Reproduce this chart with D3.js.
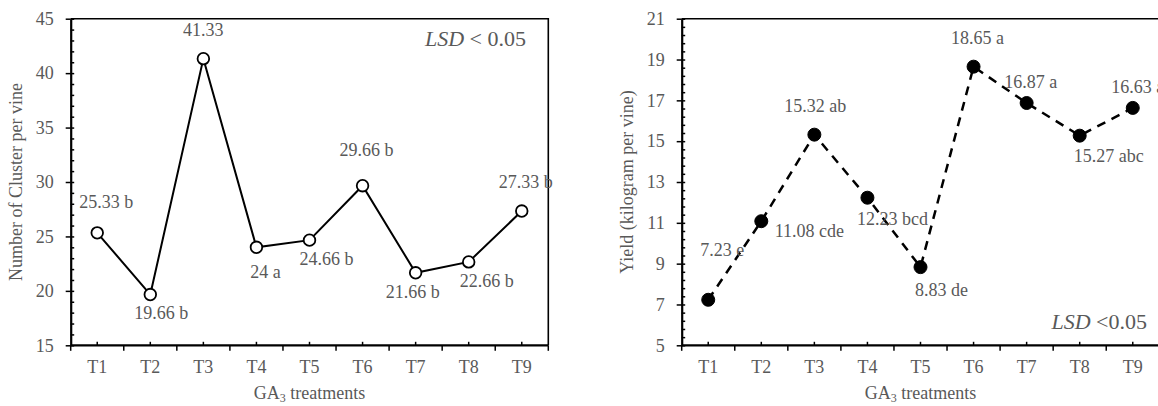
<!DOCTYPE html>
<html>
<head>
<meta charset="utf-8">
<script src="https://cdn.jsdelivr.net/npm/d3@7"></script>
<style>
  html, body { margin: 0; padding: 0; background: #fff; }
  svg { display: block; }
</style>
</head>
<body>
<div id="chart"></div>
<script>
// data
const treatments = ['T1', 'T2', 'T3', 'T4', 'T5', 'T6', 'T7', 'T8', 'T9'];
const clusterValues = [25.33, 19.66, 41.33, 24, 24.66, 29.66, 21.66, 22.66, 27.33];
const clusterLetters = ['b', 'b', '', 'a', 'b', 'b', 'b', 'b', 'b'];
const clusterTicks = [15, 20, 25, 30, 35, 40, 45];
const yieldValues = [7.23, 11.08, 15.32, 12.23, 8.83, 18.65, 16.87, 15.27, 16.63];
const yieldLetters = ['e', 'cde', 'ab', 'bcd', 'de', 'a', 'a', 'abc', 'a'];
const yieldTicks = [5, 7, 9, 11, 13, 15, 17, 19, 21];

// label placement (label centre dx, baseline dy from the marker)
const clusterLabelOffsets = [[9, -25], [11, 24], [0, -23], [9, 31], [17, 25], [4, -30], [-3, 25], [18, 25], [4, -23]];
const yieldLabelOffsets = [[14, -44], [48, 16], [1, -23], [25, 27], [21, 29], [4, -23], [4, -15], [29, 26], [5, -15]];

const W = 1158, H = 406;
const FONT = '"Liberation Serif", "Times New Roman", serif';
const TEXT = '#595959';

const svg = d3.select('#chart').append('svg')
  .attr('width', W)
  .attr('height', H)
  .attr('viewBox', `0 0 ${W} ${H}`);

function drawPanel({ left, right, top, bottom, values, letters, ticks, minorStep, offsets, yTitle, filled, dashed, lsd, lsdPos }) {
  const g = svg.append('g');

  const x = d3.scaleBand().domain(treatments).range([left, right]).padding(0);
  const y = d3.scaleLinear().domain([ticks[0], ticks[ticks.length - 1]]).range([bottom, top]);
  const cx = t => x(t) + x.bandwidth() / 2;

  // plot frame (top and right)
  g.append('path')
    .attr('d', `M${left},${top}H${right}V${bottom}`)
    .attr('fill', 'none')
    .attr('stroke', '#000')
    .attr('stroke-width', 1.6);

  // minor y ticks (inside)
  const minor = d3.range(ticks[0], ticks[ticks.length - 1] + 1e-9, minorStep)
    .filter(v => !ticks.some(t => Math.abs(t - v) < 1e-6));
  g.append('g')
    .attr('transform', `translate(${left},0)`)
    .call(d3.axisRight(y).tickValues(minor).tickSize(3.5).tickFormat(''))
    .call(ax => ax.select('.domain').remove())
    .call(ax => ax.selectAll('line').attr('stroke', '#000').attr('stroke-width', 1.5));

  // major y ticks inside part
  g.append('g')
    .attr('transform', `translate(${left},0)`)
    .call(d3.axisRight(y).tickValues(ticks).tickSize(3.5).tickFormat(''))
    .call(ax => ax.select('.domain').remove())
    .call(ax => ax.selectAll('line').attr('stroke', '#000').attr('stroke-width', 1.5));

  // y axis with labels
  g.append('g')
    .attr('transform', `translate(${left},0)`)
    .call(d3.axisLeft(y).tickValues(ticks).tickSize(5).tickSizeOuter(0).tickPadding(12))
    .call(ax => ax.select('.domain').attr('stroke', '#000').attr('stroke-width', 2.2))
    .call(ax => ax.selectAll('line').attr('stroke', '#000').attr('stroke-width', 1.5))
    .call(ax => ax.selectAll('text')
      .attr('font-family', FONT)
      .attr('font-size', '18px')
      .attr('fill', TEXT));

  // x axis: ticks at category centres go in, boundary ticks go out
  const bounds = treatments.map(t => x(t)).concat([right]);
  g.selectAll('line.xb')
    .data(bounds)
    .join('line')
    .attr('class', 'xb')
    .attr('x1', d => d).attr('x2', d => d)
    .attr('y1', bottom).attr('y2', bottom + 5.5)
    .attr('stroke', '#000').attr('stroke-width', 1.5);
  g.selectAll('line.xc')
    .data(treatments)
    .join('line')
    .attr('class', 'xc')
    .attr('x1', d => cx(d)).attr('x2', d => cx(d))
    .attr('y1', bottom).attr('y2', bottom - 3.5)
    .attr('stroke', '#000').attr('stroke-width', 1.5);
  g.append('line')
    .attr('x1', left).attr('x2', right)
    .attr('y1', bottom).attr('y2', bottom)
    .attr('stroke', '#000').attr('stroke-width', 2.2);
  g.selectAll('text.xl')
    .data(treatments)
    .join('text')
    .attr('class', 'xl')
    .attr('x', d => cx(d))
    .attr('y', bottom + 28)
    .attr('text-anchor', 'middle')
    .attr('font-family', FONT)
    .attr('font-size', '18px')
    .attr('fill', TEXT)
    .text(d => d);

  // x title with subscript
  const xt = g.append('text')
    .attr('x', (left + right) / 2)
    .attr('y', bottom + 54)
    .attr('text-anchor', 'middle')
    .attr('font-family', FONT)
    .attr('font-size', '18px')
    .attr('fill', TEXT);
  xt.append('tspan').text('GA');
  xt.append('tspan').attr('font-size', '12px').attr('dy', 3).text('3');
  xt.append('tspan').attr('dy', -3).text(' treatments');

  // y title
  g.append('text')
    .attr('transform', `translate(${left - 53},${(top + bottom) / 2}) rotate(-90)`)
    .attr('text-anchor', 'middle')
    .attr('dominant-baseline', 'middle')
    .attr('font-family', FONT)
    .attr('font-size', '18px')
    .attr('fill', TEXT)
    .text(yTitle);

  // line
  const line = d3.line().x((d, i) => cx(treatments[i])).y(d => y(d));
  g.append('path')
    .datum(values)
    .attr('d', line)
    .attr('fill', 'none')
    .attr('stroke', '#000')
    .attr('stroke-width', dashed ? 2.5 : 2)
    .attr('stroke-dasharray', dashed ? '9,7' : null);

  // markers
  g.selectAll('circle.pt')
    .data(values)
    .join('circle')
    .attr('class', 'pt')
    .attr('cx', (d, i) => cx(treatments[i]))
    .attr('cy', d => y(d))
    .attr('r', filled ? 6.5 : 5.8)
    .attr('fill', filled ? '#000' : '#fff')
    .attr('stroke', '#000')
    .attr('stroke-width', filled ? 1 : 1.8);

  // data labels
  g.selectAll('text.val')
    .data(values)
    .join('text')
    .attr('class', 'val')
    .attr('x', (d, i) => cx(treatments[i]) + offsets[i][0])
    .attr('y', (d, i) => y(d) + offsets[i][1])
    .attr('text-anchor', 'middle')
    .attr('font-family', FONT)
    .attr('font-size', '18px')
    .attr('fill', TEXT)
    .text((d, i) => letters[i] ? `${d} ${letters[i]}` : `${d}`);

  // LSD note
  const lt = g.append('text')
    .attr('x', lsdPos[0])
    .attr('y', lsdPos[1])
    .attr('text-anchor', 'end')
    .attr('font-family', FONT)
    .attr('font-size', '22px')
    .attr('fill', TEXT);
  lt.append('tspan').attr('font-style', 'italic').text('LSD');
  lt.append('tspan').text(lsd);
}

drawPanel({
  left: 70.7, right: 548.3, top: 18.7, bottom: 345.3,
  values: clusterValues, letters: clusterLetters, ticks: clusterTicks, minorStep: 1,
  offsets: clusterLabelOffsets, yTitle: 'Number of Cluster per vine',
  filled: false, dashed: false, lsd: ' < 0.05', lsdPos: [526, 45.7]
});

drawPanel({
  left: 681.7, right: 1159.3, top: 18.7, bottom: 345.3,
  values: yieldValues, letters: yieldLetters, ticks: yieldTicks, minorStep: 0.4,
  offsets: yieldLabelOffsets, yTitle: 'Yield (kilogram per vine)',
  filled: true, dashed: true, lsd: ' <0.05', lsdPos: [1147, 329.3]
});
</script>
</body>
</html>
